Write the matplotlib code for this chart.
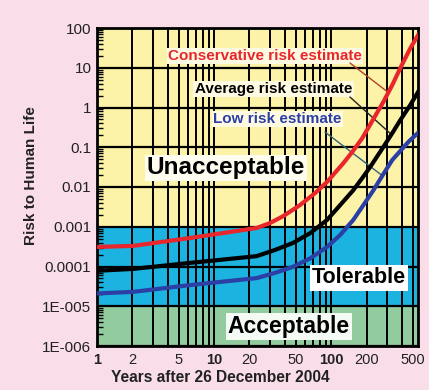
import matplotlib
matplotlib.use("Agg")

import matplotlib.pyplot as plt
import matplotlib.ticker as mticker
import numpy as np

plt.rcParams["font.family"] = ["Liberation Sans", "DejaVu Sans"]

# -- Data --
years_red = [1, 2.03, 6.2, 23, 30, 39, 54, 73, 92, 127, 151, 184, 224, 278,
             332, 389, 473, 550]
risk_red = [3.1e-4, 3.3e-4, 5.2e-4, 9.3e-4, 1.24e-3, 1.86e-3, 3.5e-3, 7.1e-3,
            1.34e-2, 4.0e-2, 7.6e-2, 0.17, 0.46, 1.37, 3.7, 9.9, 31, 66]

years_black = [1, 2.03, 6.2, 23, 33, 47, 66, 92, 119, 154, 184, 215, 278,
               332, 389, 473, 550]
risk_black = [7.8e-5, 8.7e-5, 1.23e-4, 1.82e-4, 2.6e-4, 3.9e-4, 6.9e-4,
              1.48e-3, 3.5e-3, 8.3e-3, 1.68e-2, 3.2e-2, 0.101, 0.228, 0.485,
              1.16, 2.45]

years_blue = [1, 2.03, 6.2, 23, 33, 47, 66, 92, 119, 154, 188, 229, 278,
              332, 389, 455, 550]
risk_blue = [2.1e-5, 2.3e-5, 3.4e-5, 5.1e-5, 6.9e-5, 9.8e-5, 1.6e-4, 3.1e-4,
             6.2e-4, 1.48e-3, 3.5e-3, 8.3e-3, 2.1e-2, 4.8e-2, 8.1e-2,
             0.136, 0.23]

# risk zones (lower, upper)
zone_unacceptable = (1e-3, 100)
zone_tolerable = (1e-5, 1e-3)
zone_acceptable = (1e-6, 1e-5)

x_ticks = [1, 2, 5, 10, 20, 50, 100, 200, 500]
x_labels = ["1", "2", "5", "10", "20", "50", "100", "200", "500"]
x_bold = ["1", "10", "100"]
y_ticks = [1e-6, 1e-5, 1e-4, 1e-3, 1e-2, 1e-1, 1, 10, 100]
y_labels = ["1E-006", "1E-005", "0.0001", "0.001", "0.01", "0.1", "1", "10", "100"]

# where the leader lines touch each curve (years)
leader_red = 307
leader_black = 326
leader_blue = 273

COLORS = {
    "page": "#F9DDE9",
    "yellow": "#FDF3A8",
    "blue": "#1CB3E0",
    "green": "#91CB9E",
    "red": "#E8262B",
    "black": "#000000",
    "lowblue": "#2B3FA5",
}

fig = plt.figure(figsize=(4.29, 3.90), dpi=100)
fig.patch.set_facecolor(COLORS["page"])
ax = fig.add_axes([97 / 429, 44 / 390, 321 / 429, 318 / 390])

ax.set_xscale("log")
ax.set_yscale("log")
ax.set_xlim(1, 550)
ax.set_ylim(1e-6, 100)

ax.axhspan(*zone_unacceptable, color=COLORS["yellow"], lw=0, zorder=0)
ax.axhspan(*zone_tolerable, color=COLORS["blue"], lw=0, zorder=0)
ax.axhspan(*zone_acceptable, color=COLORS["green"], lw=0, zorder=0)

# grid
ax.xaxis.set_major_locator(mticker.FixedLocator(x_ticks))
ax.xaxis.set_major_formatter(mticker.FixedFormatter(x_labels))
ax.xaxis.set_minor_locator(mticker.LogLocator(base=10, subs=np.arange(1, 10)))
ax.xaxis.set_minor_formatter(mticker.NullFormatter())
ax.yaxis.set_major_locator(mticker.FixedLocator(y_ticks))
ax.yaxis.set_major_formatter(mticker.FixedFormatter(y_labels))
ax.yaxis.set_minor_locator(mticker.LogLocator(base=10, subs=np.arange(2, 10)))
ax.yaxis.set_minor_formatter(mticker.NullFormatter())

ax.grid(True, which="both", axis="x", color="black", lw=1.4, zorder=1)
ax.grid(True, which="major", axis="y", color="black", lw=1.6, zorder=1)

ax.tick_params(axis="x", which="both", length=0, pad=5, labelsize=10.5,
               colors="#222222")
ax.tick_params(axis="y", which="major", length=0, pad=4, labelsize=11,
               colors="#222222")
ax.tick_params(axis="y", which="minor", direction="in", length=4, width=1)
for lbl in ax.get_xticklabels():
    if lbl.get_text() in x_bold:
        lbl.set_fontweight("bold")

for spine in ax.spines.values():
    spine.set_linewidth(2)
    spine.set_color("black")

# curves
ax.plot(years_red, risk_red, color=COLORS["red"], lw=3, zorder=4,
        solid_joinstyle="round")
ax.plot(years_black, risk_black, color=COLORS["black"], lw=3, zorder=4,
        solid_joinstyle="round")
ax.plot(years_blue, risk_blue, color=COLORS["lowblue"], lw=3, zorder=4,
        solid_joinstyle="round")


def on_curve(xs, ys, x):
    return 10 ** np.interp(np.log10(x), np.log10(xs), np.log10(ys))


box = dict(facecolor="#FFFBE3", edgecolor="none", pad=1.0)
ax.text(0.523, 0.912, "Conservative risk estimate", transform=ax.transAxes,
        ha="center", va="center", fontsize=11, fontweight="bold",
        color=COLORS["red"], bbox=box, zorder=3)
ax.text(0.550, 0.808, "Average risk estimate", transform=ax.transAxes,
        ha="center", va="center", fontsize=11, fontweight="bold",
        color="black", bbox=box, zorder=3)
ax.text(0.562, 0.714, "Low risk estimate", transform=ax.transAxes,
        ha="center", va="center", fontsize=11, fontweight="bold",
        color=COLORS["lowblue"], bbox=box, zorder=3)

for xs, ys, xpt, start, col in [
    (years_red, risk_red, leader_red, (0.788, 0.890), "#B0452A"),
    (years_black, risk_black, leader_black, (0.788, 0.783), "#222222"),
    (years_blue, risk_blue, leader_blue, (0.710, 0.673), "#2E6478"),
]:
    ax.annotate("", xy=(xpt, on_curve(xs, ys, xpt)), xytext=start,
                textcoords="axes fraction",
                arrowprops=dict(arrowstyle="-", color=col, lw=1.0,
                                shrinkA=0, shrinkB=0),
                zorder=3)

ax.text(0.402, 0.560, "Unacceptable", transform=ax.transAxes,
        ha="center", va="center", fontsize=17.5, fontweight="bold",
        color="black", bbox=dict(facecolor="#FFFDF0", edgecolor="none", pad=1.0),
        zorder=3)
ax.text(0.816, 0.214, "Tolerable", transform=ax.transAxes,
        ha="center", va="center", fontsize=15.5, fontweight="bold",
        color="black", bbox=dict(facecolor="white", edgecolor="none", pad=1.5),
        zorder=3)
ax.text(0.598, 0.060, "Acceptable", transform=ax.transAxes,
        ha="center", va="center", fontsize=16.5, fontweight="bold",
        color="black", bbox=dict(facecolor="#F4FBF4", edgecolor="none", pad=1.5),
        zorder=3)

fig.text(31 / 429, 1 - 176 / 390, "Risk to Human Life", rotation=90,
         ha="center", va="center", fontsize=11, fontweight="bold",
         color="#222222")
fig.text(220 / 429, 1 - 378 / 390, "Years after 26 December 2004",
         ha="center", va="center", fontsize=11.2, fontweight="bold",
         color="#222222")

fig.savefig("out.png", dpi=100, facecolor=COLORS["page"])
